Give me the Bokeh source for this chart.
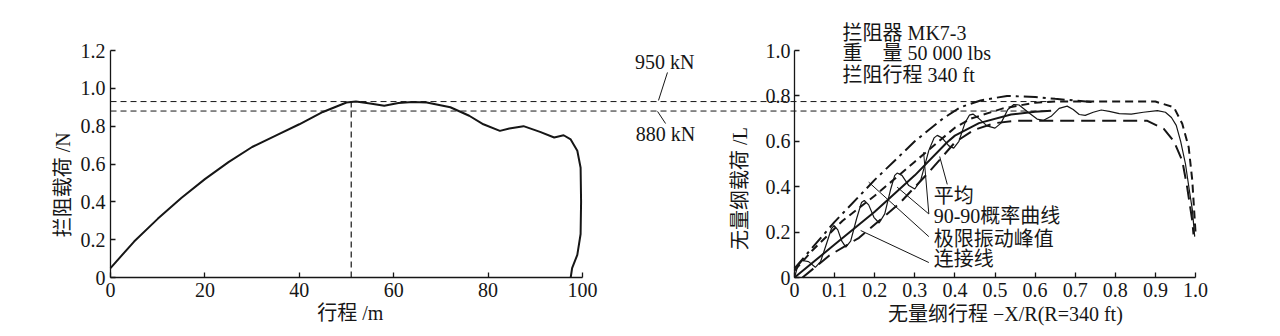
import math
from bokeh.plotting import figure
from bokeh.models import Range1d, LinearAxis, FixedTicker
from bokeh.embed import file_html
from bokeh.resources import INLINE
from bokeh.core.properties import value

# ---------------- left chart data ----------------
load_x = [0, 5, 10, 15, 20, 25, 30, 35, 40, 45, 50, 52, 55, 58, 61, 64, 67, 72, 76, 79,
          82.5, 84.5, 87.5, 91, 94, 96, 97.5, 98.9, 99.6, 99.7, 99.6, 98.9, 97.8, 97.5]
load_y = [0.05, 0.19, 0.31, 0.42, 0.52, 0.61, 0.69, 0.75, 0.81, 0.875, 0.925, 0.93, 0.92, 0.908,
          0.922, 0.928, 0.925, 0.9, 0.855, 0.81, 0.775, 0.788, 0.80, 0.77, 0.74, 0.752, 0.73,
          0.67, 0.58, 0.40, 0.23, 0.12, 0.05, 0.0]
ref_levels = [0.93, 0.88]
ref_labels = ["950 kN", "880 kN"]
peak_x = 51
left_x_ticks = [0, 20, 40, 60, 80, 100]
left_y_ticks = [0, 0.2, 0.4, 0.6, 0.8, 1.0, 1.2]
left_x_title = "行程 /m"
left_y_title = "拦阻载荷 /N"

# ---------------- right chart data ----------------
right_x_ticks = [0, 0.1, 0.2, 0.3, 0.4, 0.5, 0.6, 0.7, 0.8, 0.9, 1.0]
right_y_ticks = [0, 0.2, 0.4, 0.6, 0.8, 1.0]
right_x_title = "无量纲行程 −X/R(R=340 ft)"
right_y_title = "无量纲载荷 /L"

peak_env_x = [0.0, 0.1, 0.2, 0.3, 0.37, 0.414, 0.464, 0.53, 0.6, 0.65, 0.75]
peak_env_y = [0.04, 0.245, 0.43, 0.6, 0.70, 0.75, 0.78, 0.80, 0.795, 0.787, 0.772]

upper_x = [0.0, 0.045, 0.12, 0.2, 0.3, 0.4, 0.44, 0.52, 0.6, 0.65, 0.9, 0.946, 0.967, 0.983, 0.992, 1.0]
upper_y = [0.03, 0.12, 0.25, 0.36, 0.51, 0.66, 0.70, 0.745, 0.77, 0.775, 0.775, 0.75, 0.677, 0.574, 0.427, 0.2]

mean_x = [0.0, 0.1, 0.2, 0.3, 0.38, 0.4, 0.46, 0.54, 0.6, 0.64]
mean_y = [0.0, 0.145, 0.29, 0.45, 0.595, 0.625, 0.68, 0.718, 0.73, 0.735]

lower_x = [0.02, 0.087, 0.161, 0.261, 0.333, 0.4, 0.447, 0.5, 0.55, 0.88, 0.921, 0.946, 0.967, 0.979, 0.992, 0.995]
lower_y = [0.0, 0.097, 0.175, 0.325, 0.46, 0.595, 0.65, 0.68, 0.69, 0.69, 0.655, 0.6, 0.515, 0.4, 0.25, 0.19]

osc_x = [0.0, 0.008, 0.02, 0.035, 0.052, 0.065, 0.08, 0.092, 0.099, 0.108, 0.118, 0.128, 0.14,
         0.155, 0.167, 0.174, 0.185, 0.198, 0.211, 0.225, 0.24, 0.25, 0.256, 0.268, 0.285, 0.3,
         0.315, 0.335, 0.348, 0.356, 0.368, 0.385, 0.397, 0.41, 0.425, 0.436, 0.445, 0.46, 0.48,
         0.5, 0.515, 0.532, 0.547, 0.56, 0.585, 0.605, 0.62, 0.64, 0.66, 0.68, 0.695, 0.71, 0.725,
         0.745, 0.765, 0.785, 0.81, 0.84, 0.87, 0.905, 0.925, 0.94, 0.952, 0.963, 0.975, 0.985,
         0.992, 0.998]
osc_y = [0.0, 0.05, 0.075, 0.07, 0.045, 0.07, 0.15, 0.215, 0.229, 0.21, 0.16, 0.134, 0.16,
         0.26, 0.33, 0.339, 0.32, 0.265, 0.24, 0.28, 0.39, 0.45, 0.46, 0.45, 0.405, 0.39,
         0.43, 0.56, 0.615, 0.626, 0.615, 0.58, 0.57, 0.6, 0.68, 0.715, 0.72, 0.7, 0.668,
         0.658, 0.68, 0.74, 0.762, 0.76, 0.725, 0.698, 0.692, 0.71, 0.745, 0.755, 0.74, 0.718, 0.714,
         0.728, 0.738, 0.732, 0.722, 0.72, 0.728, 0.735, 0.728, 0.705, 0.67, 0.6, 0.5, 0.38,
         0.3, 0.18]

legend_labels = ["平均", "90-90概率曲线", "极限振动峰值", "连接线"]
info_lines = ["拦阻器 MK7-3", "重　量 50 000 lbs", "拦阻行程 340 ft"]

# ---------------- layout geometry (pixels) ----------------
W, H = 1280, 336
L_X0, L_X100, L_Y0, L_Y12 = 110, 582, 277, 50   # left chart: pixel of x=0, x=100, y=0, y=1.2
R_X0, R_X1, R_Y0, R_Y1 = 794, 1195, 277, 50     # right chart: pixel of x=0, x=1, y=0, y=1

lxs = (L_X100 - L_X0) / 100.0
lys = (L_Y0 - L_Y12) / 1.2
rxs = (R_X1 - R_X0) / 1.0
rys = (R_Y0 - R_Y1) / 1.0

SERIF = "'Liberation Serif', 'Noto Sans CJK SC'"
INK = "#161616"
FS = "20px"

p = figure(width=W, height=H, output_backend="svg", toolbar_location=None,
           x_axis_type=None, y_axis_type=None,
           x_range=Range1d(-L_X0 / lxs, (W - L_X0) / lxs),
           y_range=Range1d(-(H - L_Y0) / lys, L_Y0 / lys),
           min_border_left=0, min_border_right=0, min_border_top=0, min_border_bottom=0)
p.extra_x_ranges = {"rx": Range1d(-R_X0 / rxs, (W - R_X0) / rxs)}
p.extra_y_ranges = {"ry": Range1d(-(H - R_Y0) / rys, R_Y0 / rys)}
p.outline_line_color = None
p.background_fill_color = "white"
p.border_fill_color = "white"


def style(ax):
    ax.major_tick_in = 5
    ax.major_tick_out = 0
    ax.minor_tick_in = 0
    ax.minor_tick_out = 0
    ax.axis_line_width = 1.3
    ax.axis_line_color = INK
    ax.major_tick_line_width = 1.3
    ax.major_tick_line_color = INK
    ax.major_label_text_font = SERIF
    ax.major_label_text_font_size = FS
    ax.major_label_text_color = INK
    return ax


ax_lx = style(LinearAxis(ticker=FixedTicker(ticks=left_x_ticks), bounds=(0, 100),
                         fixed_location=0))
ax_lx.major_label_standoff = 5
p.add_layout(ax_lx, "below")

ax_ly = style(LinearAxis(ticker=FixedTicker(ticks=left_y_ticks), bounds=(0, 1.2),
                         fixed_location=0, major_label_overrides={0: "0", 1: "1.0"}))
ax_ly.major_label_standoff = 5
p.add_layout(ax_ly, "left")

ax_rx = style(LinearAxis(x_range_name="rx", y_range_name="ry", fixed_location=0,
                         ticker=FixedTicker(ticks=right_x_ticks), bounds=(0, 1.0),
                         major_label_overrides={0: "0", 1: "1.0"}))
ax_rx.major_label_standoff = 5
p.add_layout(ax_rx, "below")

ax_ry = style(LinearAxis(x_range_name="rx", y_range_name="ry", fixed_location=0,
                         ticker=FixedTicker(ticks=right_y_ticks), bounds=(0, 1.0),
                         major_label_overrides={0: "0", 1: "1.0"}))
ax_ry.major_label_standoff = 4
p.add_layout(ax_ry, "left")

txt = dict(text_font=value(SERIF), text_font_size=FS, text_color=INK)

# axis titles
p.text(x=[50.8], y=[-0.19], text=[left_x_title], text_align="center",
       text_baseline="middle", **txt)
p.text(x=[-10.0], y=[0.49], text=[left_y_title], angle=math.pi / 2, text_align="center",
       text_baseline="middle", **txt)
p.text(x=[0.526], y=[-0.159], text=[right_x_title], x_range_name="rx", y_range_name="ry",
       text_align="center", text_baseline="middle", **txt)
p.text(x=[-0.137], y=[0.392], text=[right_y_title], x_range_name="rx", y_range_name="ry",
       angle=math.pi / 2, text_align="center", text_baseline="middle", **txt)

# ---------------- left chart ----------------
ref_end = (1050 - L_X0) / lxs
p.segment(x0=[0, 0], y0=ref_levels, x1=[ref_end, ref_end], y1=ref_levels,
          line_color=INK, line_width=1, line_dash="6 4")
p.segment(x0=[peak_x], y0=[0], x1=[peak_x], y1=[ref_levels[0]],
          line_color=INK, line_width=1.2, line_dash="6 4")
p.line(load_x, load_y, line_color=INK, line_width=2)

p.segment(x0=[118.0, 115.9], y0=[1.084, 0.878], x1=[116.1, 117.6], y1=[0.936, 0.814],
          line_color=INK, line_width=1)
p.text(x=[117.4, 117.6], y=[1.14, 0.76], text=ref_labels, text_align="center",
       text_baseline="middle", **txt)

# ---------------- right chart ----------------
kw = dict(x_range_name="rx", y_range_name="ry", line_color=INK)
p.line(peak_env_x, peak_env_y, line_width=2, line_dash="14 5 3 5", **kw)
p.line(upper_x, upper_y, line_width=2, line_dash="8 5", **kw)
p.line(lower_x, lower_y, line_width=2, line_dash="14 7", **kw)
p.line(mean_x, mean_y, line_width=2, **kw)
p.line(osc_x, osc_y, line_width=1.2, **kw)

p.segment(x0=[0.381, 0.335, 0.335, 0.335, 0.335],
          y0=[0.41, 0.28, 0.28, 0.18, 0.066],
          x1=[0.362, 0.322, 0.256, 0.185, 0.165],
          y1=[0.533, 0.552, 0.398, 0.42, 0.207],
          line_width=1, **kw)
p.text(x=[0.347] * 4, y=[0.361, 0.27, 0.17, 0.083], text=legend_labels,
       x_range_name="rx", y_range_name="ry", text_align="left", text_baseline="middle", **txt)
p.text(x=[0.12] * 3, y=[1.075, 0.987, 0.89], text=info_lines,
       x_range_name="rx", y_range_name="ry", text_align="left", text_baseline="middle", **txt)

open("out.html", "w").write(file_html(p, INLINE))
